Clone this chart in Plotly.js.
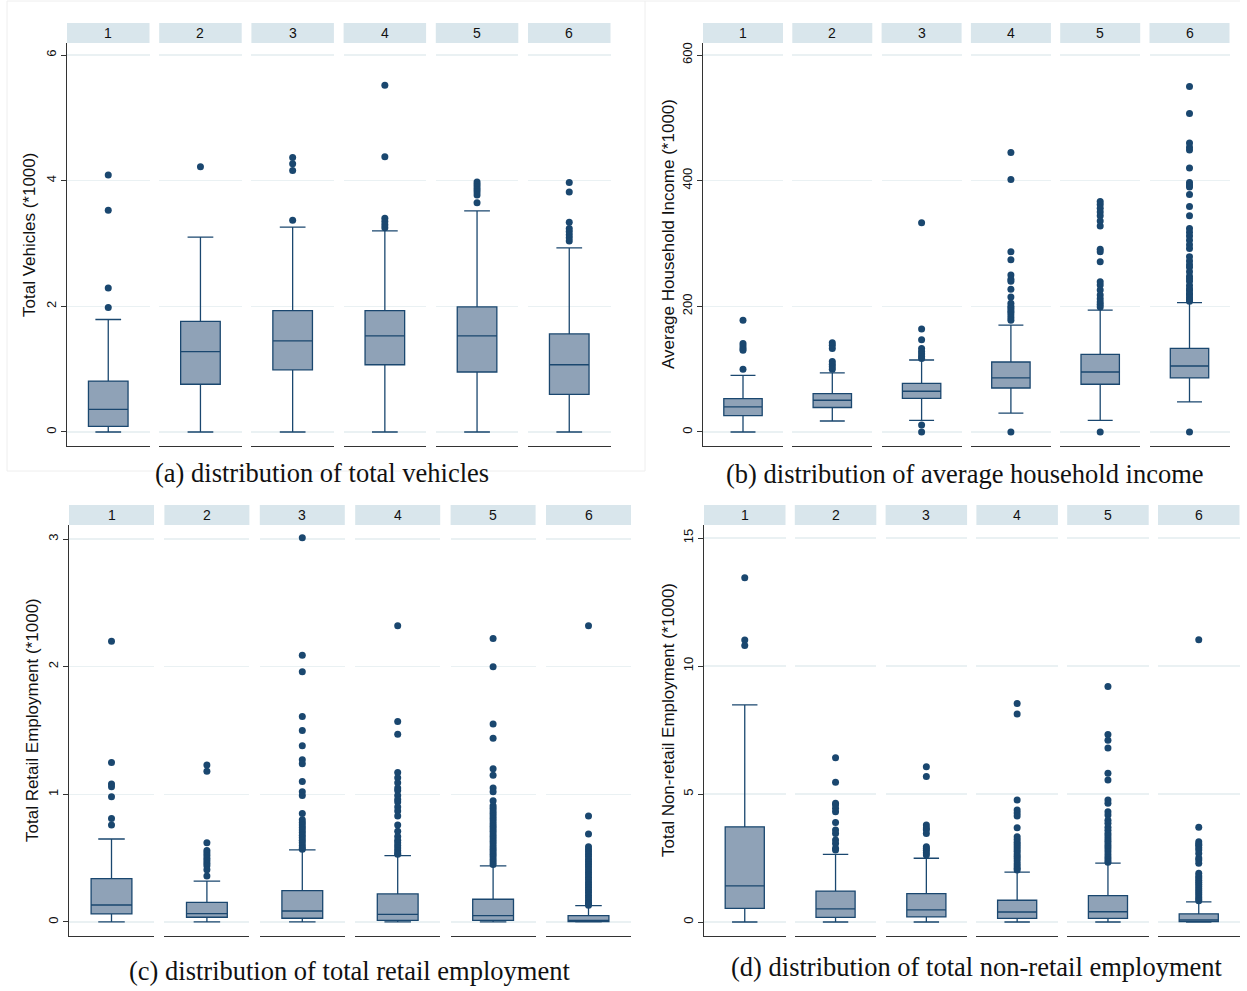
<!DOCTYPE html>
<html><head><meta charset="utf-8">
<script src="https://cdn.plot.ly/plotly-3.0.1.min.js"></script>
<style>html,body{margin:0;padding:0;background:#fff}#chart{width:1247px;height:991px}</style>
</head><body><div id="chart"></div>
<script>
const facetLabels = ['1','2','3','4','5','6'];

// (a) Total Vehicles (*1000)
const vehLower = [0, 0, 0, 0, 0, 0];
const vehQ1    = [0.09, 0.76, 0.99, 1.07, 0.955, 0.60];
const vehMed   = [0.36, 1.28, 1.45, 1.53, 1.53, 1.07];
const vehQ3    = [0.81, 1.76, 1.93, 1.93, 1.99, 1.56];
const vehUpper = [1.79, 3.10, 3.26, 3.20, 3.52, 2.93];
const vehOut1 = [4.09, 3.53, 2.29, 1.98];
const vehOut2 = [4.22];
const vehOut3 = [4.37, 4.27, 4.16, 3.37];
const vehOut4 = [5.52, 4.38, 3.40, 3.35, 3.30, 3.25];
const vehOut5 = [3.98, 3.94, 3.90, 3.86, 3.82, 3.77, 3.65];
const vehOut6 = [3.97, 3.82, 3.34, 3.24, 3.19, 3.14, 3.09, 3.04];

// (b) Average Household Income (*1000)
const incLower = [0, 17.5, 18.6, 30, 18.6, 48];
const incQ1    = [26, 39, 53.6, 70, 76, 86];
const incMed   = [40, 50.5, 64.8, 86, 95.5, 105];
const incQ3    = [53, 61, 77.5, 111.4, 123.6, 133];
const incUpper = [90, 94, 114.6, 170, 194, 206];
const incOut1 = [178, 141, 137, 133, 130, 100];
const incOut2 = [142, 138, 133, 112, 108, 104, 100];
const incOut3 = [333, 164, 147, 133, 128, 124, 120, 117, 11, 0];
const incOut4 = [445, 402, 287, 274, 250, 243, 240, 227, 215, 205, 200, 197, 193, 190, 186, 182, 178, 0];
const incOut5 = [367, 362, 356, 350, 344, 336, 328, 291, 287, 271, 239, 234, 226, 218, 212, 207, 203, 199, 0];
const incOut6 = [550, 507, 460, 453, 449, 420, 397, 393, 390, 378, 359, 344, 324, 318, 312, 305, 298, 292, 279, 272, 266, 262, 255, 248, 244, 240, 233, 228, 225, 221, 218, 214, 211, 208, 0];

// (c) Total Retail Employment (*1000)
const retLower = [0, 0, 0, 0, 0, 0];
const retQ1    = [0.063, 0.037, 0.029, 0.013, 0.013, 0.002];
const retMed   = [0.133, 0.065, 0.086, 0.06, 0.05, 0.013];
const retQ3    = [0.34, 0.154, 0.245, 0.22, 0.178, 0.049];
const retUpper = [0.65, 0.32, 0.564, 0.52, 0.44, 0.128];
const retOut1 = [2.20, 1.25, 1.08, 1.06, 0.98, 0.81, 0.76];
const retOut2 = [1.23, 1.18, 0.62, 0.56, 0.54, 0.52, 0.50, 0.48, 0.46, 0.44, 0.41, 0.36];
const retOut3 = [3.01, 2.09, 1.96, 1.61, 1.50, 1.38, 1.27, 1.24, 1.10, 1.02, 0.99, 0.85, 0.80, 0.78, 0.76, 0.74, 0.72, 0.70, 0.68, 0.66, 0.64, 0.62, 0.60, 0.58, 0.57];
const retOut4 = [2.32, 1.57, 1.47, 1.17, 1.13, 1.09, 1.05, 1.03, 0.99, 0.96, 0.94, 0.90, 0.87, 0.83, 0.76, 0.71, 0.67, 0.64, 0.62, 0.60, 0.58, 0.56, 0.54, 0.53];
const retOut5 = [2.22, 2.00, 1.55, 1.44, 1.20, 1.15, 1.05, 1.02, 0.95, 0.91, 0.89, 0.87, 0.85, 0.83, 0.81, 0.79, 0.77, 0.75, 0.73, 0.71, 0.69, 0.67, 0.65, 0.63, 0.61, 0.59, 0.57, 0.55, 0.53, 0.51, 0.49, 0.47, 0.45];
const retOut6 = [2.32, 0.83, 0.69, 0.59, 0.57, 0.55, 0.53, 0.51, 0.49, 0.47, 0.45, 0.43, 0.41, 0.39, 0.37, 0.35, 0.33, 0.31, 0.29, 0.27, 0.25, 0.23, 0.21, 0.19, 0.17, 0.15, 0.14, 0.13];

// (d) Total Non-retail Employment (*1000)
const nonLower = [0, 0, 0, 0, 0, 0];
const nonQ1    = [0.53, 0.18, 0.20, 0.14, 0.14, 0.02];
const nonMed   = [1.41, 0.51, 0.47, 0.39, 0.40, 0.08];
const nonQ3    = [3.72, 1.21, 1.11, 0.85, 1.03, 0.32];
const nonUpper = [8.48, 2.64, 2.49, 1.95, 2.30, 0.79];
const nonOut1 = [13.45, 11.02, 10.80];
const nonOut2 = [6.42, 5.46, 4.64, 4.58, 4.44, 4.31, 3.89, 3.59, 3.46, 3.20, 3.07, 2.88, 2.81];
const nonOut3 = [6.07, 5.68, 3.79, 3.67, 3.60, 3.46, 2.94, 2.87, 2.80, 2.71, 2.62];
const nonOut4 = [8.54, 8.13, 4.77, 4.38, 4.26, 4.14, 3.68, 3.33, 3.22, 3.12, 3.03, 2.94, 2.85, 2.76, 2.66, 2.57, 2.48, 2.38, 2.28, 2.19, 2.10, 2.03];
const nonOut5 = [9.20, 7.33, 7.10, 6.80, 5.81, 5.55, 4.77, 4.64, 4.31, 4.18, 3.98, 3.86, 3.70, 3.58, 3.46, 3.36, 3.25, 3.15, 3.05, 2.95, 2.85, 2.74, 2.63, 2.52, 2.42, 2.33];
const nonOut6 = [11.03, 3.70, 3.14, 3.05, 3.00, 2.90, 2.81, 2.68, 2.50, 2.42, 2.30, 1.90, 1.80, 1.72, 1.63, 1.55, 1.47, 1.39, 1.30, 1.22, 1.14, 1.06, 0.98, 0.90, 0.83];

const yTitles = ['Total Vehicles (*1000)', 'Average Household Income (*1000)',
                 'Total Retail Employment (*1000)', 'Total Non-retail Employment (*1000)'];
const captions = ['(a) distribution of total vehicles', '(b) distribution of average household income',
                  '(c) distribution of total retail employment', '(d) distribution of total non-retail employment'];
const yTicks = [[0, 2, 4, 6], [0, 200, 400, 600], [0, 1, 2, 3], [0, 5, 10, 15]];

const panelData = [
  {lo: vehLower, q1: vehQ1, med: vehMed, q3: vehQ3, hi: vehUpper, out: [vehOut1, vehOut2, vehOut3, vehOut4, vehOut5, vehOut6]},
  {lo: incLower, q1: incQ1, med: incMed, q3: incQ3, hi: incUpper, out: [incOut1, incOut2, incOut3, incOut4, incOut5, incOut6]},
  {lo: retLower, q1: retQ1, med: retMed, q3: retQ3, hi: retUpper, out: [retOut1, retOut2, retOut3, retOut4, retOut5, retOut6]},
  {lo: nonLower, q1: nonQ1, med: nonMed, q3: nonQ3, hi: nonUpper, out: [nonOut1, nonOut2, nonOut3, nonOut4, nonOut5, nonOut6]}
];

// layout geometry (pixels)
const W = 1247, H = 991;
const geom = [
  {x0: 67,  pitch: 92.2, w: 82.5, top: 43,  bottom: 446, stripTop: 23,  range: [-0.223, 6.191], tX: 30,  tY: 235, cX: 322, cY: 473},
  {x0: 703, pitch: 89.3, w: 80,   top: 43,  bottom: 446, stripTop: 23,  range: [-22.3, 619.1],  tX: 668, tY: 234, cX: 965, cY: 474},
  {x0: 69,  pitch: 95.4, w: 85,   top: 525, bottom: 936, stripTop: 505, range: [-0.11, 3.11],   tX: 32,  tY: 720, cX: 349, cY: 971},
  {x0: 704, pitch: 90.8, w: 81.5, top: 525, bottom: 936, stripTop: 505, range: [-0.547, 15.51], tX: 668, tY: 720, cX: 977, cY: 967}
];

const NAVY = '#1a476f';
const BOXFILL = '#8fa2b7';
const AXCOL = '#333333';
const SANS = 'Liberation Sans, Arial, sans-serif';
const SERIF = 'Liberation Serif, Times New Roman, serif';

const traces = [];
const layout = {
  width: W, height: H,
  margin: {l: 0, r: 0, t: 0, b: 0, pad: 0},
  paper_bgcolor: '#ffffff', plot_bgcolor: '#ffffff',
  showlegend: false,
  boxmode: 'overlay',
  annotations: [], shapes: []
};

// faint panel frames
layout.shapes.push({type: 'rect', xref: 'paper', yref: 'paper', x0: 7 / W, x1: 645 / W, y0: 1 - 471 / H, y1: 1 - 1 / H,
  line: {color: '#eeeeee', width: 1}, fillcolor: 'rgba(0,0,0,0)', layer: 'below'});
layout.shapes.push({type: 'line', xref: 'paper', yref: 'paper', x0: 645 / W, x1: 1240 / W, y0: 1 - 1 / H, y1: 1 - 1 / H,
  line: {color: '#eeeeee', width: 1}, layer: 'below'});

for (let p = 0; p < 4; p++) {
  const g = geom[p], d = panelData[p];
  const yName = p === 0 ? 'yaxis' : 'yaxis' + (p + 1);
  const yRef = p === 0 ? 'y' : 'y' + (p + 1);
  const firstX = p * 6 + 1;
  layout[yName] = {
    domain: [1 - g.bottom / H, 1 - g.top / H],
    range: g.range,
    anchor: firstX === 1 ? 'x' : 'x' + firstX,
    tickvals: yTicks[p],
    tickangle: -90,
    ticks: 'outside', ticklen: 5, tickwidth: 1, tickcolor: AXCOL,
    tickfont: {family: SANS, size: 13, color: '#111'},
    showline: true, linecolor: AXCOL, linewidth: 1.3,
    showgrid: true, gridcolor: '#eaf1f3', gridwidth: 1.2,
    zeroline: false, fixedrange: true
  };
  // y title
  layout.annotations.push({xref: 'paper', yref: 'paper', x: g.tX / W, y: 1 - g.tY / H, text: yTitles[p],
    textangle: -90, showarrow: false, xanchor: 'center', yanchor: 'middle',
    font: {family: SANS, size: 17, color: '#111'}});
  // caption
  layout.annotations.push({xref: 'paper', yref: 'paper', x: g.cX / W, y: 1 - g.cY / H, text: captions[p],
    showarrow: false, xanchor: 'center', yanchor: 'middle',
    font: {family: SERIF, size: 26.5, color: '#111'}});

  for (let f = 0; f < 6; f++) {
    const idx = p * 6 + f + 1;
    const xName = idx === 1 ? 'xaxis' : 'xaxis' + idx;
    const xRef = idx === 1 ? 'x' : 'x' + idx;
    const left = g.x0 + f * g.pitch;
    layout[xName] = {
      domain: [left / W, (left + g.w) / W],
      anchor: yRef,
      type: 'category',
      range: [-0.5, 0.5],
      showline: true, linecolor: AXCOL, linewidth: 1.3,
      showticklabels: false, ticks: '', showgrid: false, zeroline: false, fixedrange: true
    };
    const lab = facetLabels[f];
    traces.push({
      type: 'box', orientation: 'v', xaxis: xRef, yaxis: yRef,
      x: [lab], q1: [d.q1[f]], median: [d.med[f]], q3: [d.q3[f]],
      lowerfence: [d.lo[f]], upperfence: [d.hi[f]],
      width: 0.48, whiskerwidth: 0.65, boxpoints: false,
      fillcolor: BOXFILL, line: {color: NAVY, width: 1.3},
      hoverinfo: 'skip', showlegend: false
    });
    const outs = d.out[f];
    traces.push({
      type: 'scatter', mode: 'markers', xaxis: xRef, yaxis: yRef,
      x: outs.map(() => lab), y: outs,
      marker: {size: 7, color: NAVY},
      hoverinfo: 'skip', showlegend: false, cliponaxis: false
    });
    // facet strip
    layout.shapes.push({type: 'rect', xref: xRef + ' domain', yref: 'paper', x0: 0, x1: 1,
      y0: 1 - g.top / H, y1: 1 - g.stripTop / H, fillcolor: '#d9e6ec', line: {width: 0}, layer: 'below'});
    layout.annotations.push({xref: xRef + ' domain', yref: 'paper', x: 0.5, y: 1 - ((g.top + g.stripTop) / 2 - 0.5) / H,
      text: lab, showarrow: false, xanchor: 'center', yanchor: 'middle',
      font: {family: SANS, size: 14, color: '#111'}});
  }
}

Plotly.newPlot('chart', traces, layout, {staticPlot: true, displayModeBar: false});
</script>
</body></html>
